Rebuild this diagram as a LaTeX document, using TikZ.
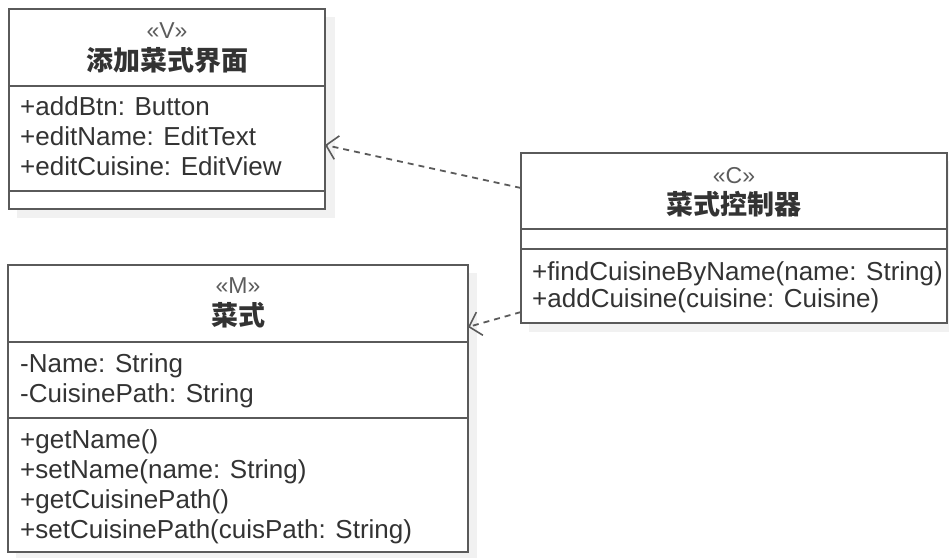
\documentclass[tikz,border=0pt]{standalone}
\usepackage{fontspec}
\setmainfont{Liberation Sans}
\newfontfamily\cjk{Noto Sans CJK SC}
\usetikzlibrary{arrows.meta}
\definecolor{umlline}{HTML}{5A5A5A}
\definecolor{umltext}{HTML}{333333}
\definecolor{umlshadow}{HTML}{F1F1F1}
\tikzset{
  classbox/.style={draw=umlline, line width=2pt, fill=white, rectangle,
    inner sep=0pt, outer sep=0pt},
  shadowbox/.style={fill=umlshadow, draw=none},
  sep/.style={draw=umlline, line width=2pt},
  member/.style={anchor=base west, inner sep=0pt, text=umltext,
    font=\fontsize{26}{30}\selectfont},
  stereo/.style={anchor=base, inner sep=0pt, text=umltext!80,
    font=\fontsize{23}{27}\selectfont},
  title/.style={anchor=base, inner sep=0pt, text=umltext,
    font=\cjk\bfseries\fontsize{27}{31}\selectfont},
  dep/.style={draw=umlline, line width=1.8pt, dash pattern=on 6pt off 5pt,
    -{Straight Barb[length=11pt,width=24pt,line width=1.6pt]}},
}
\begin{document}
\begin{tikzpicture}[x=1pt,y=-1pt]
\useasboundingbox (0,0) rectangle (949,558);

% soft shadows behind the class boxes
\fill[shadowbox] (17,17) rectangle (335,218);
\fill[shadowbox] (529,161) rectangle (949,332);
\fill[shadowbox] (16,273) rectangle (477,558);

% view class
\node[classbox, minimum width=316pt, minimum height=200pt] (view) at (167,109) {};
\draw[sep] (view.west |- 0,86) -- (view.east |- 0,86);
\draw[sep] (view.west |- 0,191) -- (view.east |- 0,191);
\node[stereo] (viewst) at (167,38) {«V»};
\node[title] (viewname) at (167,70) {添加菜式界面};
\node[member] (va1) at (20,115) {+addBtn: Button};
\node[member] (va2) at (20,145) {+editName: EditText};
\node[member] (va3) at (20,175) {+editCuisine: EditView};

% controller class
\node[classbox, minimum width=426pt, minimum height=170pt] (ctrl) at (734,238) {};
\draw[sep] (ctrl.west |- 0,229) -- (ctrl.east |- 0,229);
\draw[sep] (ctrl.west |- 0,249) -- (ctrl.east |- 0,249);
\node[stereo] (ctrlst) at (734,183) {«C»};
\node[title] (ctrlname) at (734,214) {菜式控制器};
\node[member] (cm1) at (532,280) {+findCuisineByName(name: String)};
\node[member] (cm2) at (532,307) {+addCuisine(cuisine: Cuisine)};

% model class
\node[classbox, minimum width=460pt, minimum height=287pt] (model) at (238,408.5) {};
\draw[sep] (model.west |- 0,342) -- (model.east |- 0,342);
\draw[sep] (model.west |- 0,418) -- (model.east |- 0,418);
\node[stereo] (modelst) at (238,293) {«M»};
\node[title] (modelname) at (238,325) {菜式};
\node[member] (ma1) at (20,372) {-Name: String};
\node[member] (ma2) at (20,402) {-CuisinePath: String};
\node[member] (mm1) at (20,448) {+getName()};
\node[member] (mm2) at (20,478) {+setName(name: String)};
\node[member] (mm3) at (20,508) {+getCuisinePath()};
\node[member] (mm4) at (20,538) {+setCuisinePath(cuisPath: String)};

% dependencies
\draw[dep] ([yshift=50pt]ctrl.west) -- ([yshift=-36pt]view.east);
\draw[dep] ([yshift=-74pt]ctrl.west) -- ([yshift=81.5pt]model.east);
\end{tikzpicture}
\end{document}
